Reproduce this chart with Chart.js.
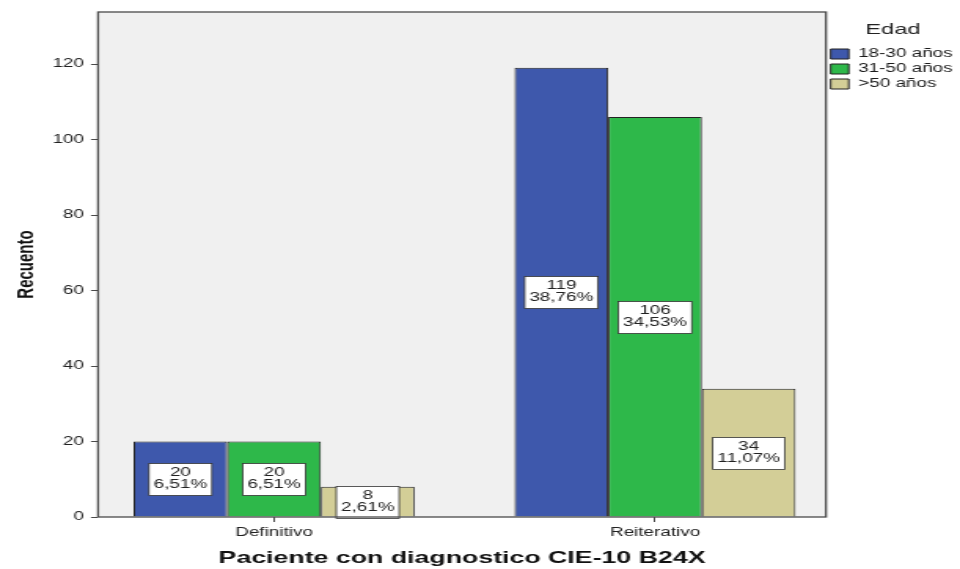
<!DOCTYPE html>
<html>
<head>
<meta charset="utf-8">
<script src="https://cdn.jsdelivr.net/npm/chart.js@4.4.1/dist/chart.umd.min.js"></script>
<style>
    html, body { margin: 0; padding: 0; background: #fff; overflow: hidden; }
    /* o grafico original esta esticado na horizontal: desenha a 611px e estica para 960px */
    #grafico { display: block; width: 960px; height: 569px; }
</style>
</head>
<body>
<canvas id="grafico" width="611" height="569" style="width:960px;height:569px"></canvas>
<script>
var CATEGORIAS = ['Definitivo', 'Reiterativo'];
var EDADES = ['18-30 años', '31-50 años', '>50 años'];
var RECUENTO_18_30 = [20, 119];
var RECUENTO_31_50 = [20, 106];
var RECUENTO_MAS_50 = [8, 34];
var PORC_18_30 = ['6,51%', '38,76%'];
var PORC_31_50 = ['6,51%', '34,53%'];
var PORC_MAS_50 = ['2,61%', '11,07%'];
var Y_TICKS = [0, 20, 40, 60, 80, 100, 120];

var Cores = { 'azul': 'rgb(62, 88, 172)', 'verde': 'rgb(46, 184, 74)', 'beige': 'rgb(211, 206, 151)' };
var FONTE = '"Liberation Sans", Arial, sans-serif';

// pontos {x: indice da categoria, y: recuento}
var pontos = function (valores) {
    return valores.map(function (v, i) { return { x: i, y: v }; });
};

// fundo cinza e moldura da area do grafico
var moldura = {
    id: 'moldura',
    beforeDraw: function (chart) {
        var ctx = chart.ctx, a = chart.chartArea;
        ctx.save();
        ctx.fillStyle = '#f0f0f0';
        ctx.fillRect(a.left, a.top, a.right - a.left, a.bottom - a.top);
        ctx.restore();
    },
    afterDraw: function (chart) {
        var ctx = chart.ctx, a = chart.chartArea;
        ctx.save();
        ctx.strokeStyle = '#4a4a4a';
        ctx.lineWidth = 1.3;
        ctx.strokeRect(a.left, a.top, a.right - a.left, a.bottom - a.top);
        ctx.restore();
    }
};

// caixas brancas com recuento e porcentagem no meio de cada barra
var rotulos = {
    id: 'rotulos',
    afterDatasetsDraw: function (chart) {
        var ctx = chart.ctx;
        ctx.save();
        ctx.font = '12px ' + FONTE;
        ctx.textAlign = 'center';
        ctx.textBaseline = 'middle';
        chart.data.datasets.forEach(function (ds, i) {
            chart.getDatasetMeta(i).data.forEach(function (barra, j) {
                var linhas = [String(ds.data[j].y), ds.porcentagens[j]];
                var cy = (barra.y + barra.base) / 2;
                var w = Math.max(ctx.measureText(linhas[0]).width, ctx.measureText(linhas[1]).width) + 6;
                var h = 32;
                var x0 = barra.x - w / 2, y0 = Math.round(cy - h / 2) + 0.5;
                ctx.fillStyle = '#ffffff';
                ctx.fillRect(x0, y0, w, h);
                ctx.strokeStyle = '#333333';
                ctx.lineWidth = 0.8;
                ctx.strokeRect(x0, y0, w, h);
                ctx.fillStyle = '#222222';
                ctx.fillText(linhas[0], barra.x, cy - 6);
                ctx.fillText(linhas[1], barra.x, cy + 6);
            });
        });
        ctx.restore();
    }
};

var ctx = document.getElementById('grafico').getContext('2d');
var grafico = new Chart(ctx, {
    type: 'bar',
    data: {
        datasets: [{
            label: EDADES[0],
            data: pontos(RECUENTO_18_30),
            porcentagens: PORC_18_30,
            backgroundColor: Cores.azul,
            borderColor: '#222222',
            borderWidth: 1
        },
        {
            label: EDADES[1],
            data: pontos(RECUENTO_31_50),
            porcentagens: PORC_31_50,
            backgroundColor: Cores.verde,
            borderColor: '#222222',
            borderWidth: 1
        },
        {
            label: EDADES[2],
            data: pontos(RECUENTO_MAS_50),
            porcentagens: PORC_MAS_50,
            backgroundColor: Cores.beige,
            borderColor: '#222222',
            borderWidth: 1
        }]
    },
    options: {
        responsive: false,
        animation: false,
        devicePixelRatio: 1,
        categoryPercentage: 0.7375,
        barPercentage: 1,
        layout: { padding: { top: 12, right: 0, bottom: 0, left: 0 } },
        plugins: {
            tooltip: { enabled: false },
            legend: {
                position: 'right',
                align: 'start',
                maxWidth: 85.3,
                title: {
                    display: true,
                    text: 'Edad',
                    color: '#222',
                    font: { family: FONTE, size: 15 },
                    padding: { top: 10, bottom: 5 }
                },
                labels: {
                    boxWidth: 11.5,
                    boxHeight: 10,
                    padding: 3,
                    color: '#1a1a1a',
                    font: { family: FONTE, size: 12 }
                }
            }
        },
        scales: {
            x: {
                type: 'linear',
                min: -0.462,
                max: 1.4487,
                offset: false,
                afterBuildTicks: function (s) {
                    s.ticks = CATEGORIAS.map(function (c, i) { return { value: i }; });
                },
                afterFit: function (s) { s.height = 52; },
                ticks: {
                    callback: function (v) { return CATEGORIAS[v]; },
                    color: '#222',
                    font: { family: FONTE, size: 12 },
                    padding: 3,
                    maxRotation: 0,
                    autoSkip: false
                },
                grid: { offset: false, drawOnChartArea: false, drawTicks: true, tickLength: 5, color: '#4a4a4a' },
                border: { display: false },
                title: {
                    display: true,
                    text: 'Paciente con diagnostico CIE-10 B24X',
                    color: '#111',
                    font: { family: FONTE, size: 17, weight: 'bold' },
                    padding: { top: 0, bottom: 0 }
                }
            },
            y: {
                min: 0,
                max: 133.8,
                afterBuildTicks: function (s) {
                    s.ticks = Y_TICKS.map(function (v) { return { value: v }; });
                },
                afterFit: function (s) { s.width = 62.4; },
                ticks: {
                    color: '#222',
                    font: { family: FONTE, size: 12 },
                    padding: 4.5
                },
                grid: { drawOnChartArea: false, drawTicks: true, tickLength: 4.5, color: '#4a4a4a' },
                border: { display: false },
                title: {
                    display: true,
                    text: 'Recuento',
                    color: '#111',
                    font: { family: FONTE, size: 15, weight: 'bold' },
                    padding: { top: 7.5, bottom: 0 }
                }
            }
        }
    },
    plugins: [moldura, rotulos]
});
</script>
</body>
</html>
